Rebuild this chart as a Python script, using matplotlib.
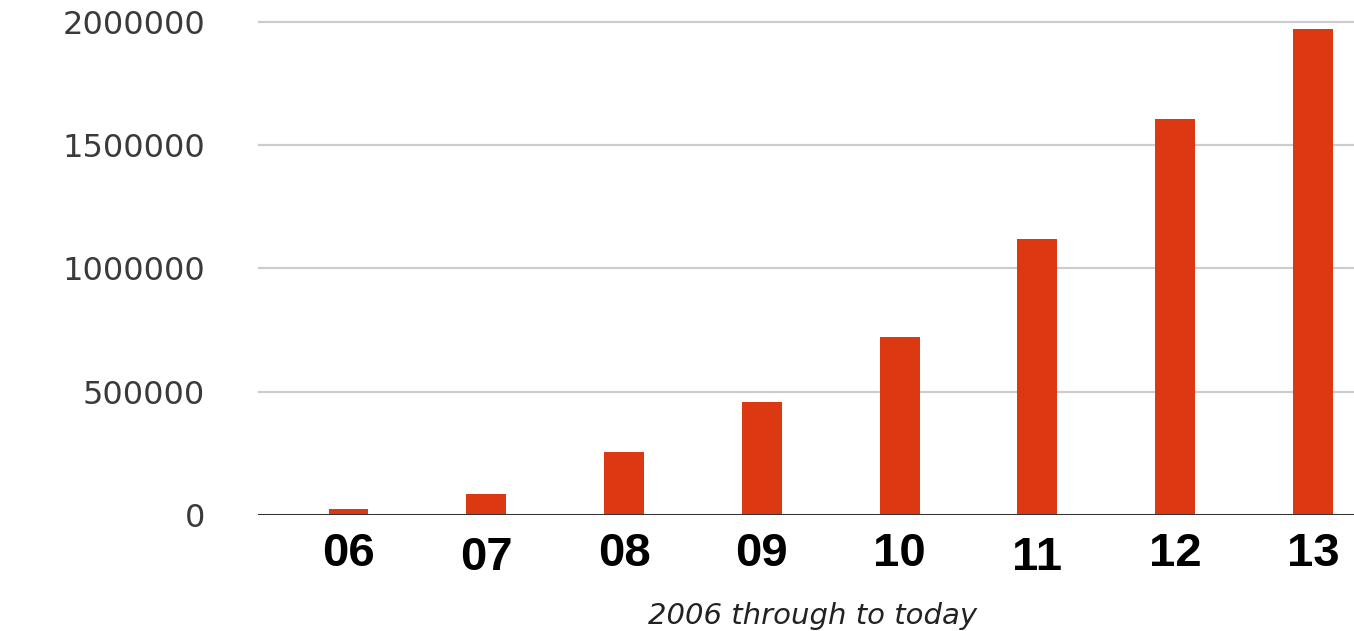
#!/usr/bin/env python
# -*- coding: utf-8 -*-

import matplotlib
matplotlib.use('Agg')
import matplotlib.pyplot as plt
import matplotlib.transforms as mtransforms

# data
years = ['06', '07', '08', '09', '10', '11', '12', '13']
counts = [23000, 84000, 257000, 460000, 723000, 1120000, 1607000, 1972000]
y_ticks = [0, 500000, 1000000, 1500000, 2000000]
x_title = '2006 through to today'

bar_color = '#dc3912'

fig = plt.figure(figsize=(13.54, 6.31), dpi=100)
ax = fig.add_axes([258 / 1354, 116 / 631, 1 - 258 / 1354, 515 / 631])

x = list(range(len(years)))
ax.bar(x, counts, width=0.29, color=bar_color, zorder=3)

# gridlines and baseline
for v in y_ticks[1:]:
    ax.axhline(v, color='#cccccc', linewidth=1.6, zorder=1)
ax.axhline(0, color='#333333', linewidth=2.2, zorder=4)

ax.set_xlim(-0.657, 7.298)
ax.set_ylim(0, 2089000)

for s in ax.spines.values():
    s.set_visible(False)

ax.set_yticks(y_ticks)
ax.set_yticklabels([str(v) for v in y_ticks], fontsize=23,
                   color='#3a3a3a', family='DejaVu Sans')
ax.tick_params(axis='y', length=0, pad=38)

ax.set_xticks(x)
ax.set_xticklabels(years, fontsize=34, fontweight='bold',
                   color='black', family='Liberation Sans')
ax.tick_params(axis='x', length=0, pad=12)

# the 07 and 11 labels sit a little lower in the original
for lbl in ax.get_xticklabels():
    if lbl.get_text() in ('07', '11'):
        lbl.set_transform(lbl.get_transform() +
                          mtransforms.ScaledTranslation(0, -3 / 72, fig.dpi_scale_trans))

ax.set_xlabel(x_title, fontsize=21, style='italic', color='#222222',
              family='DejaVu Sans', labelpad=12)
ax.xaxis.set_label_coords(0.506, -0.169)

plt.savefig('out.png', dpi=100)
plt.close()
